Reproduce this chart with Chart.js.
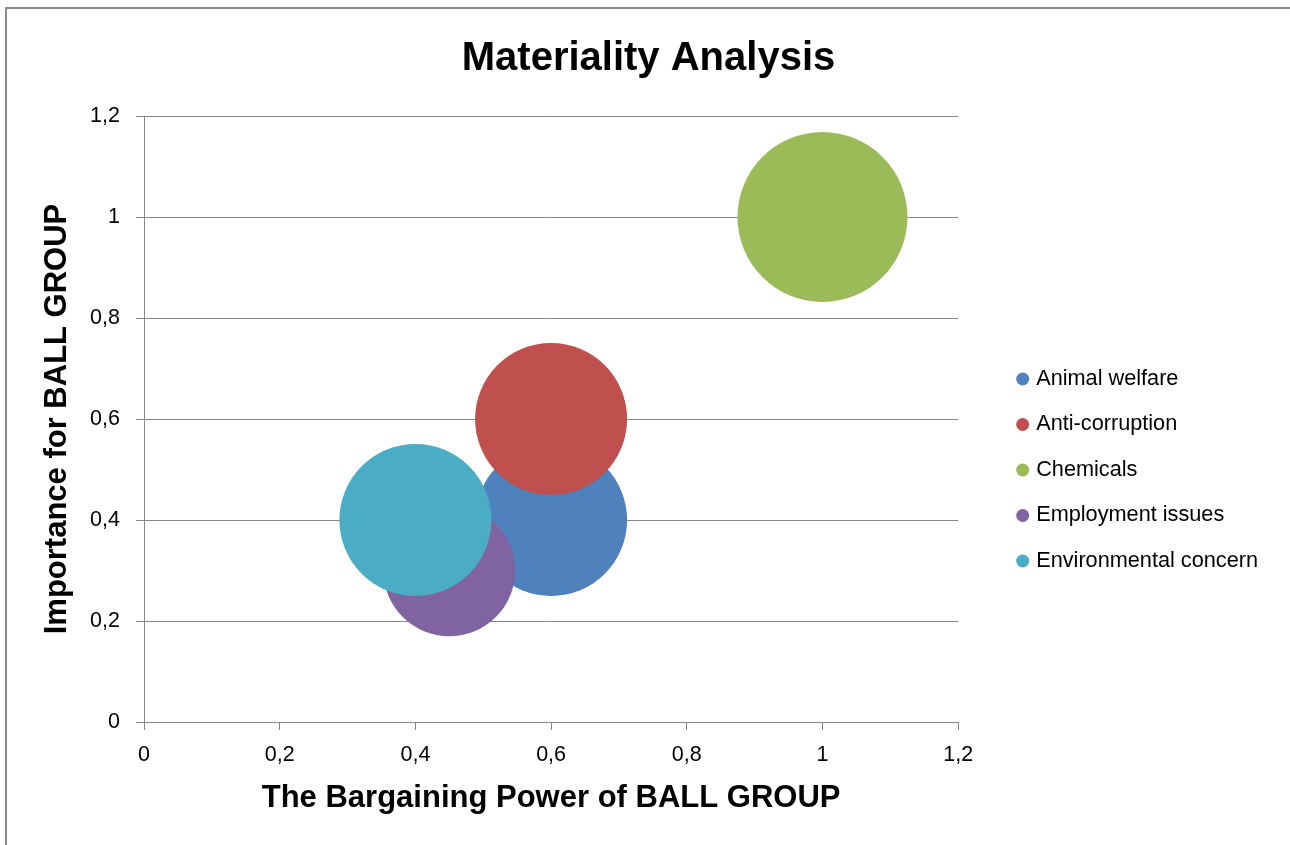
<!DOCTYPE html>
<html><head><meta charset="utf-8">
<script src="https://cdn.jsdelivr.net/npm/chart.js@4"></script>
<style>
html,body{margin:0;padding:0;background:#fff;}
#wrap{position:relative;width:1290px;height:845px;overflow:hidden;}
#frame{position:absolute;left:5px;top:7px;right:-5px;bottom:-5px;border-left:2px solid #8a8a8a;border-top:2px solid #8a8a8a;pointer-events:none;}
canvas{position:absolute;left:0;top:0;}
</style></head><body>
<div id="wrap"><canvas id="c" width="1290" height="845"></canvas><div id="frame"></div></div>
<script>
const seriesNames = ['Animal welfare', 'Anti-corruption', 'Chemicals', 'Employment issues', 'Environmental concern'];
const xValues = [0.6, 0.6, 1.0, 0.45, 0.4];
const yValues = [0.4, 0.6, 1.0, 0.3, 0.4];
const bubbleSizes = [4, 4, 5, 3, 4];
const seriesColors = ['#4F81BD', '#C0504D', '#9BBB59', '#8064A2', '#4BACC6'];
const xTickLabels = ['0', '0,2', '0,4', '0,6', '0,8', '1', '1,2'];
const yTickLabels = ['0', '0,2', '0,4', '0,6', '0,8', '1', '1,2'];

const FONT = "'Liberation Sans Narrow', 'Arial Narrow', 'Liberation Sans', Arial, sans-serif";
const GRID = '#868686';
const MAX_R = 85;
const maxSize = Math.max(...bubbleSizes);

Chart.defaults.font.family = FONT;
Chart.defaults.color = '#000';

const datasets = seriesNames.map((name, i) => ({
  label: name,
  data: [{ x: xValues[i], y: yValues[i] }],
  backgroundColor: seriesColors[i],
  borderWidth: 0,
  radius: () => MAX_R * Math.sqrt(bubbleSizes[i] / maxSize),
  order: seriesNames.length - i
}));

new Chart(document.getElementById('c'), {
  type: 'bubble',
  data: { datasets },
  options: {
    responsive: false,
    animation: false,
    events: [],
    layout: { padding: { left: 29, right: 22, top: 0, bottom: 0 } },
    plugins: {
      tooltip: { enabled: false },
      title: {
        display: true,
        text: 'Materiality Analysis',
        font: { size: 40, weight: 'bold' },
        color: '#000',
        padding: { top: 35, bottom: 33 }
      },
      legend: {
        position: 'right',
        maxWidth: 600,
        title: { display: true, text: '', font: { size: 10, lineHeight: 1 }, padding: { top: 85, bottom: 0 } },
        labels: {
          usePointStyle: true,
          pointStyle: 'circle',
          boxWidth: 5.3,
          boxHeight: 9.2,
          padding: 23.8,
          font: { size: 21.7 },
          color: '#000',
          sort: (a, b) => a.datasetIndex - b.datasetIndex
        }
      }
    },
    scales: {
      x: {
        type: 'linear',
        min: 0, max: 1.2,
        afterFit: (s) => { s.height = 123; },
        ticks: { stepSize: 0.2, padding: 12.5, font: { size: 21.5 }, color: '#000',
          callback: (v, i) => xTickLabels[i] },
        grid: { drawOnChartArea: false, drawTicks: true, tickLength: 8, color: GRID, lineWidth: 1 },
        border: { display: true, color: GRID, width: 1 },
        title: { display: true, text: 'The Bargaining Power of BALL GROUP',
          font: { size: 31, weight: 'bold' }, color: '#000', padding: { top: 4, bottom: 28.4 } }
      },
      y: {
        type: 'linear',
        min: 0, max: 1.2,
        afterFit: (s) => { s.width = 115; },
        ticks: { stepSize: 0.2, padding: 16, font: { size: 21.5 }, color: '#000',
          callback: (v, i) => yTickLabels[i] },
        grid: { drawTicks: true, tickLength: 8, color: GRID, lineWidth: 1 },
        border: { display: true, color: GRID, width: 1 },
        title: { display: true, text: 'Importance for BALL GROUP',
          font: { size: 31, weight: 'bold' }, color: '#000', padding: { top: 9.9, bottom: 0 } }
      },
      spacer: {
        type: 'linear',
        position: 'right',
        display: true,
        afterFit: (s) => { s.width = 38.05; },
        ticks: { display: false },
        grid: { display: false },
        border: { display: false }
      }
    }
  }
});
</script>
</body></html>
